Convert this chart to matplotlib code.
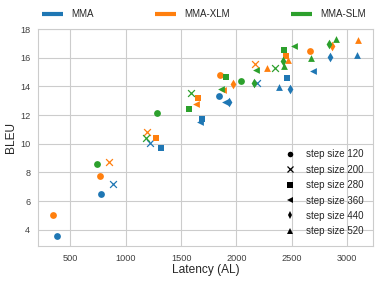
import matplotlib
matplotlib.use("Agg")
from matplotlib import pyplot as plt
from matplotlib.lines import Line2D
import seaborn as sns

models = ["MMA", "MMA-XLM", "MMA-SLM"]
colors = ["#1f77b4", "#ff7f0e", "#2ca02c"]
steps = [120, 200, 280, 360, 440, 520]
markers = ["o", "x", "s", "<", "d", "^"]

# MMA
mma_step = [120, 120, 120, 200, 200, 200, 280, 280, 280, 360, 360, 360, 440, 440, 440, 520, 520]
mma_latency = [380, 773, 1841, 883, 1216, 2188, 1319, 1688, 2455, 1670, 1894, 2693, 1935, 2483, 2847, 2383, 3087]
mma_bleu = [3.56, 6.48, 13.34, 7.2, 10.05, 14.24, 9.7, 11.75, 14.57, 11.5, 12.92, 15.08, 12.92, 13.82, 16.06, 13.94, 16.2]

# MMA-XLM
xlm_step = [120, 120, 120, 120, 200, 200, 200, 280, 280, 280, 360, 360, 440, 440, 520, 520, 520]
xlm_latency = [343, 767, 1848, 2663, 848, 1195, 2166, 1273, 1652, 2446, 1637, 1877, 1968, 2865, 2272, 2464, 3096]
xlm_bleu = [5.01, 7.74, 14.83, 16.45, 8.72, 10.84, 15.59, 10.4, 13.2, 16.15, 12.8, 13.73, 14.2, 16.8, 15.27, 15.87, 17.22]

# MMA-SLM
slm_step = [120, 120, 120, 200, 200, 200, 280, 280, 280, 360, 360, 360, 440, 440, 440, 520, 520, 520]
slm_latency = [740, 1280, 2040, 1185, 1588, 2347, 1570, 1904, 2428, 1856, 2179, 2516, 2157, 2422, 2834, 2428, 2671, 2897]
slm_bleu = [8.58, 12.15, 14.38, 10.37, 13.56, 15.29, 12.45, 14.66, 16.55, 13.85, 15.17, 16.85, 14.27, 15.8, 16.99, 15.4, 16.0, 17.32]

sns.set_style("whitegrid")
plt.rcParams["font.family"] = ["Liberation Sans", "DejaVu Sans"]

fig = plt.figure(figsize=(3.79, 2.83), dpi=100)
ax = fig.add_axes([0.100, 0.131, 0.884, 0.7665])

data = [(mma_step, mma_latency, mma_bleu),
        (xlm_step, xlm_latency, xlm_bleu),
        (slm_step, slm_latency, slm_bleu)]

for (st, lat, bl), col in zip(data, colors):
    for s, m in zip(steps, markers):
        xs = [x for x, k in zip(lat, st) if k == s]
        ys = [y for y, k in zip(bl, st) if k == s]
        ax.scatter(xs, ys, marker=m, color=col, s=24, linewidths=0.9 if m == "x" else 0)

ax.set_xticks([500, 1000, 1500, 2000, 2500, 3000])
ax.set_yticks([4, 6, 8, 10, 12, 14, 16, 18])
ax.tick_params(labelsize=6.6, pad=2, colors="#404040")
ax.set_xlabel("Latency (AL)", fontsize=8.6, labelpad=1, color="#262626")
ax.set_ylabel("BLEU", fontsize=8.6, labelpad=2, color="#262626")

# model legend on top
model_handles = [Line2D([], [], color=c, lw=3, solid_capstyle="butt") for c in colors]
leg1 = fig.legend(model_handles, models, loc="center left", ncol=3, mode="expand",
                  bbox_to_anchor=(0.1, 0.95, 0.875, 0.0), frameon=False,
                  fontsize=7, handlelength=2.2, borderaxespad=0)

# step size legend
step_handles = [Line2D([], [], marker=m, color="black", linestyle="none", markersize=4,
                       markeredgewidth=0.9 if m == "x" else 0) for m in markers]
ax.legend(step_handles, ["step size %d" % s for s in steps], loc="lower right",
          frameon=False, fontsize=7, handletextpad=0.6, labelspacing=0.55,
          borderaxespad=0.6)

fig.savefig("out.png", dpi=100)
